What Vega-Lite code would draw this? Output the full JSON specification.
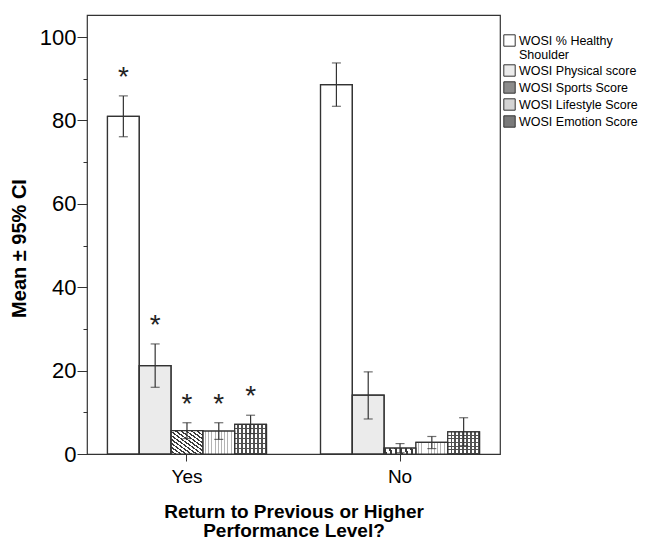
{
  "$schema": "https://vega.github.io/schema/vega-lite/v6.json",
  "width": 413,
  "height": 439,
  "autosize": "none",
  "padding": {"left": 87, "top": 15, "right": 158, "bottom": 86},
  "background": "white",
  "config": {
    "font": "Liberation Sans",
    "view": {"stroke": "#333", "strokeWidth": 1.2},
    "axis": {"grid": false}
  },
  "data": {
    "values": [
      {"group": "Yes", "series": "WOSI % Healthy Shoulder", "mean": 81.0, "lo": 76.1, "hi": 85.9, "star": "*"},
      {"group": "Yes", "series": "WOSI Physical score", "mean": 21.2, "lo": 16.0, "hi": 26.4, "star": "*"},
      {"group": "Yes", "series": "WOSI Sports Score", "mean": 5.6, "lo": 3.7, "hi": 7.5, "star": "*"},
      {"group": "Yes", "series": "WOSI Lifestyle Score", "mean": 5.5, "lo": 3.5, "hi": 7.5, "star": "*"},
      {"group": "Yes", "series": "WOSI Emotion Score", "mean": 7.1, "lo": 4.9, "hi": 9.3, "star": "*"},
      {"group": "No", "series": "WOSI % Healthy Shoulder", "mean": 88.6, "lo": 83.4, "hi": 93.8, "star": ""},
      {"group": "No", "series": "WOSI Physical score", "mean": 14.1, "lo": 8.4, "hi": 19.7, "star": ""},
      {"group": "No", "series": "WOSI Sports Score", "mean": 1.4, "lo": 0.3, "hi": 2.5, "star": ""},
      {"group": "No", "series": "WOSI Lifestyle Score", "mean": 2.8, "lo": 1.3, "hi": 4.2, "star": ""},
      {"group": "No", "series": "WOSI Emotion Score", "mean": 5.3, "lo": 2.0, "hi": 8.7, "star": ""}
    ]
  },
  "encoding": {
    "x": {
      "field": "group", "type": "nominal", "sort": ["Yes", "No"],
      "scale": {"paddingInner": 0.2535, "paddingOuter": 0.096},
      "axis": {
        "title": ["Return to Previous or Higher", "Performance Level?"],
        "titleFontSize": 19, "titleFontWeight": "bold", "titleColor": "black",
        "titlePadding": 16, "titleLineHeight": 19,
        "labelAngle": 0, "labelFontSize": 19, "labelColor": "black", "labelPadding": 6,
        "tickSize": 7, "tickColor": "#333", "domain": false
      }
    },
    "xOffset": {
      "field": "series", "type": "nominal",
      "scale": {
        "domain": ["WOSI % Healthy Shoulder", "WOSI Physical score", "WOSI Sports Score", "WOSI Lifestyle Score", "WOSI Emotion Score"],
        "paddingInner": 0, "paddingOuter": 0
      }
    }
  },
  "layer": [
    {
      "mark": {"type": "bar", "stroke": "#333", "strokeWidth": 1.2},
      "encoding": {
        "y": {
          "field": "mean", "type": "quantitative",
          "scale": {"domain": [0, 105.3], "nice": false},
          "axis": {
            "orient": "left", "values": [0, 20, 40, 60, 80, 100],
            "title": "Mean ± 95% CI", "titleFontSize": 20, "titleFontWeight": "bold", "titleColor": "black", "titlePadding": 10, "titleY": 233,
            "labelFontSize": 22, "labelColor": "black", "labelPadding": 1, "tickSize": 10, "tickColor": "#333", "domain": false
          }
        },
        "fill": {
          "field": "series", "type": "nominal",
          "scale": {
            "domain": ["WOSI % Healthy Shoulder", "WOSI Physical score", "WOSI Sports Score", "WOSI Lifestyle Score", "WOSI Emotion Score"],
            "range": ["#ffffff", "#ebebeb", "#8c8c8c", "#d4d4d4", "#7a7a7a"]
          },
          "legend": {
            "orient": "none", "legendX": 416, "legendY": 19, "title": null,
            "symbolType": "square", "symbolSize": 130, "symbolStrokeColor": "#333", "symbolStrokeWidth": 1,
            "labelFontSize": 12.5, "labelColor": "black", "labelOffset": 3, "rowPadding": 0, "labelLimit": 200,
            "labelExpr": "datum.label == 'WOSI % Healthy Shoulder' ? ['WOSI % Healthy', 'Shoulder'] : datum.label"
          }
        }
      }
    },
    {
      "transform": [{"filter": "datum.series == 'WOSI Sports Score'"}],
      "mark": {
        "type": "bar",
        "fill": {"gradient": "linear", "x1": 0, "y1": 1, "x2": 1, "y2": 0, "stops": [
          {"offset": 0, "color": "#ffffff"}, {"offset": 0.05, "color": "#ffffff"}, {"offset": 0.05, "color": "#3a3a3a"}, {"offset": 0.0833, "color": "#3a3a3a"},
          {"offset": 0.0833, "color": "#ffffff"}, {"offset": 0.1333, "color": "#ffffff"}, {"offset": 0.1333, "color": "#3a3a3a"}, {"offset": 0.1667, "color": "#3a3a3a"},
          {"offset": 0.1667, "color": "#ffffff"}, {"offset": 0.2167, "color": "#ffffff"}, {"offset": 0.2167, "color": "#3a3a3a"}, {"offset": 0.25, "color": "#3a3a3a"},
          {"offset": 0.25, "color": "#ffffff"}, {"offset": 0.3, "color": "#ffffff"}, {"offset": 0.3, "color": "#3a3a3a"}, {"offset": 0.3333, "color": "#3a3a3a"},
          {"offset": 0.3333, "color": "#ffffff"}, {"offset": 0.3833, "color": "#ffffff"}, {"offset": 0.3833, "color": "#3a3a3a"}, {"offset": 0.4167, "color": "#3a3a3a"},
          {"offset": 0.4167, "color": "#ffffff"}, {"offset": 0.4667, "color": "#ffffff"}, {"offset": 0.4667, "color": "#3a3a3a"}, {"offset": 0.5, "color": "#3a3a3a"},
          {"offset": 0.5, "color": "#ffffff"}, {"offset": 0.55, "color": "#ffffff"}, {"offset": 0.55, "color": "#3a3a3a"}, {"offset": 0.5833, "color": "#3a3a3a"},
          {"offset": 0.5833, "color": "#ffffff"}, {"offset": 0.6333, "color": "#ffffff"}, {"offset": 0.6333, "color": "#3a3a3a"}, {"offset": 0.6667, "color": "#3a3a3a"},
          {"offset": 0.6667, "color": "#ffffff"}, {"offset": 0.7167, "color": "#ffffff"}, {"offset": 0.7167, "color": "#3a3a3a"}, {"offset": 0.75, "color": "#3a3a3a"},
          {"offset": 0.75, "color": "#ffffff"}, {"offset": 0.8, "color": "#ffffff"}, {"offset": 0.8, "color": "#3a3a3a"}, {"offset": 0.8333, "color": "#3a3a3a"},
          {"offset": 0.8333, "color": "#ffffff"}, {"offset": 0.8833, "color": "#ffffff"}, {"offset": 0.8833, "color": "#3a3a3a"}, {"offset": 0.9167, "color": "#3a3a3a"},
          {"offset": 0.9167, "color": "#ffffff"}, {"offset": 0.9667, "color": "#ffffff"}, {"offset": 0.9667, "color": "#3a3a3a"}, {"offset": 1, "color": "#3a3a3a"}
        ]}
      },
      "encoding": {"y": {"field": "mean", "type": "quantitative", "axis": null}}
    },
    {
      "transform": [{"filter": "datum.series == 'WOSI Lifestyle Score'"}],
      "mark": {
        "type": "bar",
        "fill": {"gradient": "linear", "x1": 0, "y1": 0, "x2": 1, "y2": 0, "stops": [
          {"offset": 0, "color": "#ffffff"}, {"offset": 0.07, "color": "#ffffff"}, {"offset": 0.07, "color": "#b4b4b4"}, {"offset": 0.1, "color": "#b4b4b4"},
          {"offset": 0.1, "color": "#ffffff"}, {"offset": 0.17, "color": "#ffffff"}, {"offset": 0.17, "color": "#b4b4b4"}, {"offset": 0.2, "color": "#b4b4b4"},
          {"offset": 0.2, "color": "#ffffff"}, {"offset": 0.27, "color": "#ffffff"}, {"offset": 0.27, "color": "#b4b4b4"}, {"offset": 0.3, "color": "#b4b4b4"},
          {"offset": 0.3, "color": "#ffffff"}, {"offset": 0.37, "color": "#ffffff"}, {"offset": 0.37, "color": "#b4b4b4"}, {"offset": 0.4, "color": "#b4b4b4"},
          {"offset": 0.4, "color": "#ffffff"}, {"offset": 0.47, "color": "#ffffff"}, {"offset": 0.47, "color": "#b4b4b4"}, {"offset": 0.5, "color": "#b4b4b4"},
          {"offset": 0.5, "color": "#ffffff"}, {"offset": 0.57, "color": "#ffffff"}, {"offset": 0.57, "color": "#b4b4b4"}, {"offset": 0.6, "color": "#b4b4b4"},
          {"offset": 0.6, "color": "#ffffff"}, {"offset": 0.67, "color": "#ffffff"}, {"offset": 0.67, "color": "#b4b4b4"}, {"offset": 0.7, "color": "#b4b4b4"},
          {"offset": 0.7, "color": "#ffffff"}, {"offset": 0.77, "color": "#ffffff"}, {"offset": 0.77, "color": "#b4b4b4"}, {"offset": 0.8, "color": "#b4b4b4"},
          {"offset": 0.8, "color": "#ffffff"}, {"offset": 0.87, "color": "#ffffff"}, {"offset": 0.87, "color": "#b4b4b4"}, {"offset": 0.9, "color": "#b4b4b4"},
          {"offset": 0.9, "color": "#ffffff"}, {"offset": 0.97, "color": "#ffffff"}, {"offset": 0.97, "color": "#b4b4b4"}, {"offset": 1, "color": "#b4b4b4"}
        ]}
      },
      "encoding": {"y": {"field": "mean", "type": "quantitative", "axis": null}}
    },
    {
      "transform": [{"filter": "datum.series == 'WOSI Emotion Score'"}],
      "mark": {
        "type": "bar",
        "fill": {"gradient": "linear", "x1": 0, "y1": 0, "x2": 1, "y2": 0, "stops": [
          {"offset": 0, "color": "#ffffff"}, {"offset": 0.0875, "color": "#ffffff"}, {"offset": 0.0875, "color": "#505050"}, {"offset": 0.125, "color": "#505050"},
          {"offset": 0.125, "color": "#ffffff"}, {"offset": 0.2125, "color": "#ffffff"}, {"offset": 0.2125, "color": "#505050"}, {"offset": 0.25, "color": "#505050"},
          {"offset": 0.25, "color": "#ffffff"}, {"offset": 0.3375, "color": "#ffffff"}, {"offset": 0.3375, "color": "#505050"}, {"offset": 0.375, "color": "#505050"},
          {"offset": 0.375, "color": "#ffffff"}, {"offset": 0.4625, "color": "#ffffff"}, {"offset": 0.4625, "color": "#505050"}, {"offset": 0.5, "color": "#505050"},
          {"offset": 0.5, "color": "#ffffff"}, {"offset": 0.5875, "color": "#ffffff"}, {"offset": 0.5875, "color": "#505050"}, {"offset": 0.625, "color": "#505050"},
          {"offset": 0.625, "color": "#ffffff"}, {"offset": 0.7125, "color": "#ffffff"}, {"offset": 0.7125, "color": "#505050"}, {"offset": 0.75, "color": "#505050"},
          {"offset": 0.75, "color": "#ffffff"}, {"offset": 0.8375, "color": "#ffffff"}, {"offset": 0.8375, "color": "#505050"}, {"offset": 0.875, "color": "#505050"},
          {"offset": 0.875, "color": "#ffffff"}, {"offset": 0.9625, "color": "#ffffff"}, {"offset": 0.9625, "color": "#505050"}, {"offset": 1, "color": "#505050"}
        ]}
      },
      "encoding": {"y": {"field": "mean", "type": "quantitative", "axis": null}}
    },
    {
      "transform": [{"filter": "datum.series == 'WOSI Emotion Score'"}],
      "mark": {
        "type": "bar",
        "fill": {"gradient": "linear", "x1": 0, "y1": 0, "x2": 0, "y2": 1, "stops": [
          {"offset": 0, "color": "rgba(255,255,255,0)"}, {"offset": 0.12, "color": "rgba(255,255,255,0)"}, {"offset": 0.12, "color": "#505050"}, {"offset": 0.1667, "color": "#505050"},
          {"offset": 0.1667, "color": "rgba(255,255,255,0)"}, {"offset": 0.2867, "color": "rgba(255,255,255,0)"}, {"offset": 0.2867, "color": "#505050"}, {"offset": 0.3333, "color": "#505050"},
          {"offset": 0.3333, "color": "rgba(255,255,255,0)"}, {"offset": 0.4533, "color": "rgba(255,255,255,0)"}, {"offset": 0.4533, "color": "#505050"}, {"offset": 0.5, "color": "#505050"},
          {"offset": 0.5, "color": "rgba(255,255,255,0)"}, {"offset": 0.62, "color": "rgba(255,255,255,0)"}, {"offset": 0.62, "color": "#505050"}, {"offset": 0.6667, "color": "#505050"},
          {"offset": 0.6667, "color": "rgba(255,255,255,0)"}, {"offset": 0.7867, "color": "rgba(255,255,255,0)"}, {"offset": 0.7867, "color": "#505050"}, {"offset": 0.8333, "color": "#505050"},
          {"offset": 0.8333, "color": "rgba(255,255,255,0)"}, {"offset": 0.9533, "color": "rgba(255,255,255,0)"}, {"offset": 0.9533, "color": "#505050"}, {"offset": 1, "color": "#505050"}
        ]}
      },
      "encoding": {"y": {"field": "mean", "type": "quantitative", "axis": null}}
    },
    {
      "mark": {"type": "bar", "fillOpacity": 0, "stroke": "#333", "strokeWidth": 1.2},
      "encoding": {"y": {"field": "mean", "type": "quantitative", "axis": null}}
    },
    {
      "mark": {"type": "rule", "color": "#333", "strokeWidth": 1.2},
      "encoding": {
        "y": {"field": "lo", "type": "quantitative", "axis": null},
        "y2": {"field": "hi"}
      }
    },
    {
      "mark": {"type": "tick", "orient": "horizontal", "size": 9, "thickness": 1.2, "color": "#333"},
      "encoding": {"y": {"field": "hi", "type": "quantitative", "axis": null}}
    },
    {
      "mark": {"type": "tick", "orient": "horizontal", "size": 9, "thickness": 1.2, "color": "#333"},
      "encoding": {"y": {"field": "lo", "type": "quantitative", "axis": null}}
    },
    {
      "mark": {"type": "text", "fontSize": 28, "baseline": "alphabetic", "dy": -10, "color": "#222"},
      "encoding": {
        "y": {
          "field": "hi", "type": "quantitative",
          "axis": {"orient": "left", "values": [10, 30, 50, 70, 90], "labels": false, "tickSize": 4, "tickColor": "#333", "domain": false, "title": null}
        },
        "text": {"field": "star"}
      }
    }
  ],
  "resolve": {"axis": {"y": "independent"}}
}
